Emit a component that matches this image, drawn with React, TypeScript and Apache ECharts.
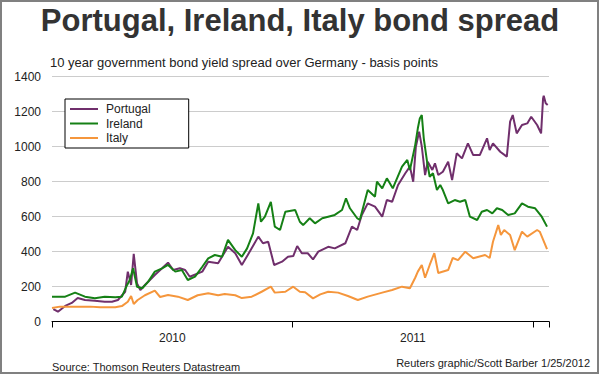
import React, { useEffect, useRef } from "react";
import * as echarts from "echarts";

// x values are days counted from 1 Jan 2010 (day 730 = 1 Jan 2012, day 754 = 25 Jan 2012)
const yearLabels = ["2010", "2011"];
const seriesNames = ["Portugal", "Ireland", "Italy"];

const portugalDays = [2, 9, 20, 30, 39, 50, 65, 80, 91, 100, 111, 115, 120, 124, 129, 134, 141, 156, 167, 176, 184, 194, 202, 209, 228, 237, 252, 267, 278, 288, 297, 313, 320, 328, 337, 349, 358, 366, 372, 379, 388, 396, 404, 419, 429, 445, 455, 463, 470, 479, 490, 501, 508, 516, 525, 536, 543, 548, 552, 557, 561, 566, 570, 577, 581, 586, 593, 601, 607, 614, 622, 631, 639, 649, 660, 664, 669, 680, 690, 695, 699, 705, 713, 721, 727, 736, 742, 745, 746, 749, 752];
const portugalBp = [71, 56, 89, 106, 134, 123, 119, 113, 113, 123, 170, 285, 209, 386, 218, 180, 209, 266, 304, 336, 294, 304, 294, 256, 285, 342, 333, 427, 390, 323, 380, 485, 447, 456, 323, 342, 370, 374, 431, 390, 390, 355, 399, 427, 418, 447, 542, 523, 609, 675, 656, 599, 694, 684, 780, 847, 885, 799, 999, 1085, 1000, 837, 913, 866, 904, 837, 856, 913, 808, 961, 932, 1018, 951, 951, 1047, 980, 1018, 970, 942, 1142, 1180, 1075, 1123, 1132, 1170, 1123, 1075, 1275, 1290, 1247, 1237];

const irelandDays = [0, 20, 35, 50, 65, 80, 96, 106, 114, 118, 123, 129, 137, 146, 156, 167, 176, 187, 197, 206, 217, 228, 237, 247, 258, 267, 278, 288, 296, 305, 313, 317, 323, 332, 338, 346, 354, 369, 376, 381, 391, 399, 410, 419, 429, 440, 446, 452, 463, 467, 475, 479, 490, 493, 501, 508, 517, 531, 539, 543, 551, 555, 558, 561, 564, 569, 573, 578, 584, 589, 593, 601, 611, 619, 627, 634, 645, 652, 660, 668, 675, 683, 692, 702, 713, 722, 733, 743, 751];
const irelandBp = [142, 142, 165, 142, 133, 142, 138, 142, 209, 237, 304, 199, 190, 228, 285, 304, 323, 285, 294, 237, 256, 313, 361, 380, 370, 466, 408, 370, 418, 504, 675, 570, 599, 684, 542, 523, 627, 637, 570, 551, 590, 561, 590, 599, 609, 637, 704, 647, 590, 580, 694, 751, 713, 799, 761, 818, 761, 885, 923, 866, 1008, 1104, 1160, 1180, 1047, 913, 827, 847, 751, 780, 751, 675, 694, 684, 694, 599, 580, 627, 637, 618, 647, 637, 609, 618, 675, 656, 647, 599, 542];

const italyDays = [0, 12, 35, 58, 73, 96, 106, 115, 120, 124, 130, 141, 156, 164, 176, 191, 206, 221, 237, 252, 262, 278, 288, 303, 318, 332, 338, 354, 366, 376, 384, 396, 407, 419, 434, 449, 464, 479, 501, 516, 531, 543, 551, 555, 561, 566, 573, 580, 586, 601, 608, 616, 627, 639, 657, 664, 669, 677, 681, 686, 695, 702, 713, 721, 736, 740, 751];
const italyBp = [77, 85, 85, 85, 81, 81, 88, 113, 146, 100, 123, 150, 176, 140, 151, 142, 123, 150, 161, 150, 157, 150, 134, 142, 170, 199, 165, 170, 199, 170, 167, 132, 155, 170, 165, 146, 123, 142, 165, 180, 199, 190, 250, 285, 323, 250, 323, 391, 277, 294, 363, 351, 399, 361, 380, 363, 456, 551, 494, 523, 494, 408, 513, 485, 523, 513, 414];

const TITLE = "Portugal, Ireland, Italy bond spread";
const SUBTITLE = "10 year government bond yield spread over Germany - basis points";
const SOURCE = "Source: Thomson Reuters Datastream";
const CREDIT = "Reuters graphic/Scott Barber 1/25/2012";

const FONT = "Arial, 'Liberation Sans', sans-serif";

export default function App() {
  const ref = useRef<HTMLDivElement>(null);
  useEffect(() => {
    const chart = echarts.init(ref.current as HTMLDivElement, null, { renderer: "svg" });
    const zip = (d: number[], v: number[]) => d.map((x, i) => [x, v[i]]);
    const colors = ["#702F6C", "#158015", "#F5963C"];
    const data = [zip(portugalDays, portugalBp), zip(irelandDays, irelandBp), zip(italyDays, italyBp)];
    chart.setOption({
      animation: false,
      backgroundColor: "#ffffff",
      textStyle: { fontFamily: FONT },
      title: [
        { text: TITLE, left: "center", top: 5, padding: 0, textStyle: { fontSize: 31, fontWeight: "bold", color: "#333333", fontFamily: FONT } },
        { text: SUBTITLE, left: 50, top: 56, padding: 0, textStyle: { fontSize: 13, fontWeight: "normal", color: "#222222", fontFamily: FONT } },
        { text: SOURCE, left: 52, top: 361, padding: 0, textStyle: { fontSize: 11, fontWeight: "normal", color: "#222222", fontFamily: FONT } },
        { text: CREDIT, right: 10, top: 357, padding: 0, textStyle: { fontSize: 11, fontWeight: "normal", color: "#222222", fontFamily: FONT } },
      ],
      legend: {
        orient: "vertical",
        left: 65,
        top: 99,
        padding: [4, 38, 4, 5],
        itemWidth: 28,
        itemHeight: 2,
        itemGap: 2.5,
        icon: "rect",
        backgroundColor: "#ffffff",
        borderColor: "#000000",
        borderWidth: 1,
        textStyle: { fontSize: 12, color: "#222222", fontFamily: FONT, padding: [0, 0, 0, 3] },
        data: seriesNames,
      },
      grid: { left: 52, right: 51, top: 76.5, bottom: 54.5 },
      xAxis: [
        {
          type: "value",
          min: 0,
          max: 754,
          interval: 365,
          axisLine: { lineStyle: { color: "#000000", width: 1 } },
          axisTick: { length: 6, lineStyle: { color: "#000000" } },
          axisLabel: { show: false },
          splitLine: { show: false },
        },
        {
          type: "value",
          position: "bottom",
          min: 0,
          max: 754,
          interval: 182.5,
          axisLine: { show: false },
          axisTick: { show: false },
          splitLine: { show: false },
          axisLabel: {
            margin: 10,
            fontSize: 12,
            color: "#222222",
            fontFamily: FONT,
            formatter: (v: number) => (v === 182.5 ? yearLabels[0] : v === 547.5 ? yearLabels[1] : ""),
          },
        },
      ],
      yAxis: {
        type: "value",
        min: 0,
        max: 1400,
        interval: 200,
        axisLine: { show: false },
        axisTick: { show: false },
        axisLabel: { margin: 11, fontSize: 12, color: "#222222", fontFamily: FONT, formatter: (v: number) => String(v) },
        splitLine: { lineStyle: { color: "#cccccc", width: 1 } },
      },
      series: seriesNames.map((name, i) => ({
        name,
        type: "line",
        data: data[i],
        symbol: "none",
        showSymbol: false,
        lineStyle: { width: 2, color: colors[i] },
        itemStyle: { color: colors[i] },
      })),
      graphic: [
        {
          type: "rect",
          silent: true,
          z: 100,
          shape: { x: 1, y: 1, width: 597, height: 372 },
          style: { fill: "none", stroke: "#808080", lineWidth: 2 },
        },
      ],
    });
    return () => chart.dispose();
  }, []);
  return <div ref={ref} style={{ position: "absolute", left: 0, top: 0, width: 600, height: 376 }} />;
}
